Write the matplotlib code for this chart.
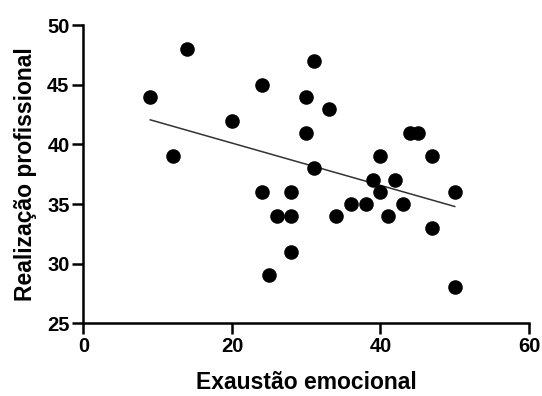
import numpy as np
import matplotlib.pyplot as plt

plt.rcParams['font.family'] = ['Liberation Sans', 'DejaVu Sans']
plt.rcParams['font.weight'] = 'bold'

# Data
exaustao = [9, 12, 14, 20, 24, 24, 25, 26, 28, 28, 28, 30, 30, 31, 31, 33,
            34, 36, 38, 39, 40, 40, 41, 42, 43, 44, 45, 47, 47, 50, 50]
realizacao = [44, 39, 48, 42, 45, 36, 29, 34, 36, 34, 31, 44, 41, 47, 38, 43,
              34, 35, 35, 37, 39, 36, 34, 37, 35, 41, 41, 39, 33, 36, 28]

x = np.array(exaustao, dtype=float)
y = np.array(realizacao, dtype=float)

# Linear regression line
slope, intercept = np.polyfit(x, y, 1)
xs = np.array([x.min(), x.max()])

fig = plt.figure(figsize=(5.42, 3.96), dpi=100)
ax = fig.add_axes([0.154, 0.184, 0.822, 0.752])

ax.scatter(x, y, s=110, color='black', zorder=3, linewidths=0)
ax.plot(xs, slope * xs + intercept, color='#333333', linewidth=1.1, zorder=2)

ax.set_xlim(0, 60)
ax.set_ylim(25, 50)
ax.set_xticks([0, 20, 40, 60])
ax.set_yticks([25, 30, 35, 40, 45, 50])

for side in ['top', 'right']:
    ax.spines[side].set_visible(False)
for side in ['left', 'bottom']:
    ax.spines[side].set_linewidth(1.8)

ax.tick_params(axis='both', direction='out', length=8, width=1.8,
               labelsize=14.5, pad=2)
for lab in ax.get_xticklabels() + ax.get_yticklabels():
    lab.set_fontweight('bold')

ax.set_xlabel('Exaustão emocional', fontsize=16.5, fontweight='bold', labelpad=11)
ax.set_ylabel('Realização profissional', fontsize=16.5, fontweight='bold', labelpad=7)

fig.savefig('out.png', dpi=100)
